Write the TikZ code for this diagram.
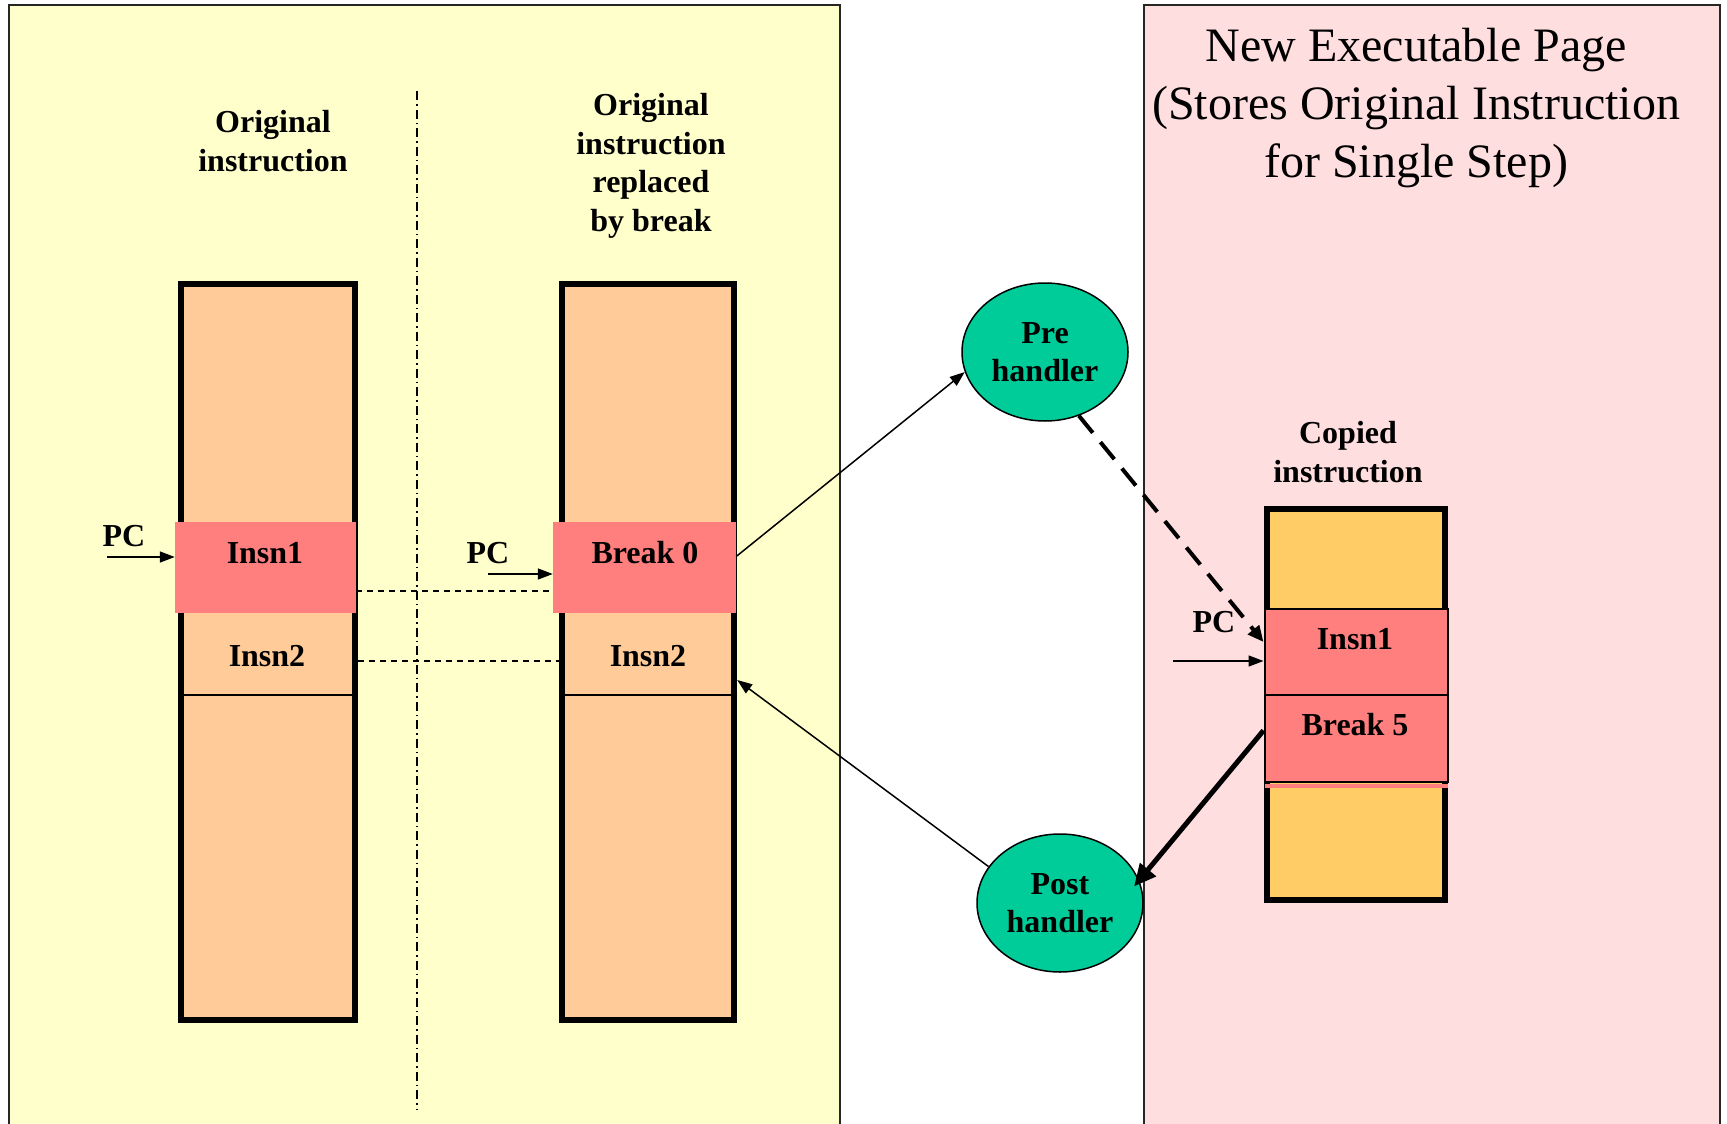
\documentclass[tikz,border=0pt]{standalone}
\usepackage{fontspec}
\setmainfont{Liberation Serif}
\usetikzlibrary{arrows.meta,shapes.geometric}

\definecolor{panelyellow}{HTML}{FFFFCC}
\definecolor{panelpink}{HTML}{FFDEE0}
\definecolor{peach}{HTML}{FFCC99}
\definecolor{cellred}{HTML}{FF7F7F}
\definecolor{gold}{HTML}{FFCC66}
\definecolor{handlergreen}{HTML}{00CC99}

\tikzset{
  panel/.style={line width=1.5pt, draw=black!85},
  column/.style={rectangle, draw, line width=6pt, fill=peach, inner sep=0pt},
  cell/.style={rectangle, fill=cellred, inner sep=0pt},
  slot/.style={rectangle, inner sep=0pt},
  lbl/.style={font=\bfseries\fontsize{32}{38.5}\selectfont, align=center, inner sep=0pt},
  heading/.style={font=\fontsize{48}{58}\selectfont, align=center, inner sep=0pt},
  handler/.style={ellipse, draw, line width=1.5pt, fill=handlergreen,
    minimum width=166pt, minimum height=138pt, inner sep=0pt,
    font=\bfseries\fontsize{32}{38}\selectfont, align=center},
  thinarrow/.style={line width=1.5pt, -{Triangle[length=15pt,width=11pt]}},
  jumparrow/.style={line width=4pt, dash pattern=on 22pt off 12pt,
    -{Triangle[length=16pt,width=14pt]}},
  returnarrow/.style={line width=5pt, -{Triangle[length=22pt,width=20pt]}},
  rowlink/.style={line width=1.5pt, dash pattern=on 6pt off 5pt}
}

\begin{document}
\begin{tikzpicture}[x=1pt,y=-1pt]
\clip (0,0) rectangle (1727,1124);
\fill[white] (0,0) rectangle (1727,1124);

% the two memory regions
\filldraw[panel, fill=panelyellow] (9,5) rectangle (840,1140);
\filldraw[panel, fill=panelpink] (1144,5) rectangle (1720,1140);

% separator between the two views of the text page
\draw[line width=1.2pt, dash pattern=on 9pt off 4pt on 1.5pt off 4pt] (417,91) -- (417,1109);

% original text page
\node[column, minimum width=174pt, minimum height=736pt] (lcol) at (268,652) {};
\node[cell, minimum width=181pt, minimum height=91pt] (lins1) at (265.5,567.5) {};
\node[slot, minimum width=180pt, minimum height=68pt] (lins2) at (268,661) {};
\draw[line width=2pt] ([xshift=5pt]lins2.south west) -- ([xshift=-5pt]lins2.south east);

% text page with the breakpoint inserted
\node[column, minimum width=172pt, minimum height=736pt] (mcol) at (648,652) {};
\node[cell, minimum width=183pt, minimum height=91pt] (brk0) at (644.5,567.5) {};
\node[slot, minimum width=178pt, minimum height=68pt] (mins2) at (648,661) {};
\draw[line width=2pt] ([xshift=5pt]mins2.south west) -- ([xshift=-5pt]mins2.south east);

% single-step copy
\node[column, fill=gold, minimum width=178pt, minimum height=391pt] (ccol) at (1355.5,704.5) {};
\node[cell, draw, line width=2pt, minimum width=183pt, minimum height=86pt] (cins1) at (1356,652) {};
\node[cell, draw, line width=2pt, minimum width=183pt, minimum height=87pt] (cbrk5) at (1356,738.5) {};
\node[cell, minimum width=183pt, minimum height=4pt, anchor=north] (cstrip) at ([yshift=-1pt]cbrk5.south) {};

% row correspondence
\draw[rowlink] ([yshift=-23.5pt]lins1.east) -- ([yshift=-23.5pt]brk0.west);
\draw[rowlink] (lins2.east) -- (mins2.west);

% cell texts
\node[lbl] (tins1) at (265,553) {Insn1};
\node[lbl] (tins2) at (267,656) {Insn2};
\node[lbl] (tbrk0) at (645,553) {Break 0};
\node[lbl] (tmins2) at (648,656) {Insn2};
\node[lbl] (tcins1) at (1355,639) {Insn1};
\node[lbl] (tcbrk5) at (1355,725) {Break 5};

% column titles
\node[lbl] (ttl1) at (273,141) {Original\\instruction};
\node[lbl] (ttl2) at (651,166) {Original\\instruction\\replaced\\by break};
\node[lbl] (ttl3) at (1348,452) {Copied\\instruction};
\node[heading] (ttl4) at (1416,108.5) {New Executable Page\\(Stores Original Instruction\\for Single Step)};

% program counters
\node[lbl] (pcl) at (124,536) {PC};
\node[lbl] (pcm) at (488,553) {PC};
\node[lbl] (pcc) at (1214,622) {PC};
\coordinate (pcLs) at (107,557);
\coordinate (pcMs) at (488,574);
\coordinate (pcCs) at (1173,661);
\draw[thinarrow] (pcLs) -- (pcLs -| lins1.west);
\draw[thinarrow] (pcMs) -- (pcMs -| brk0.west);
\draw[thinarrow] (pcCs) -- (pcCs -| cins1.west);

% handlers
\node[handler] (pre) at (1045,352) {Pre\\handler};
\node[handler] (post) at (1060,903) {Post\\handler};

% control flow
\draw[thinarrow] ([yshift=11pt]brk0.east) -- (pre.194);
\draw[jumparrow] (pre.298) -- ([yshift=10pt]cins1.west);
\draw[returnarrow, shorten >=-8pt] ([yshift=8pt]cbrk5.west) -- (post.16);
\draw[thinarrow] (post.153) -- ([yshift=-19pt]mins2.east);
\end{tikzpicture}
\end{document}
